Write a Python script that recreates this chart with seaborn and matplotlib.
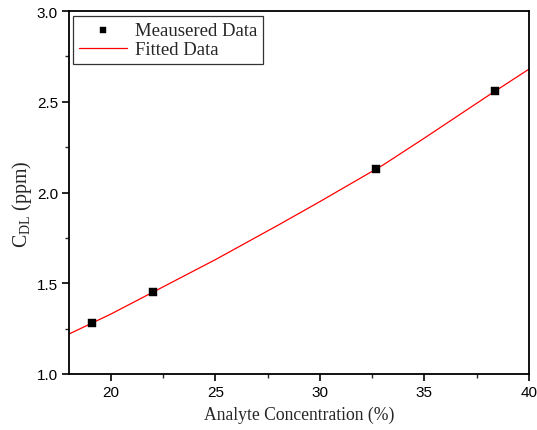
import matplotlib
matplotlib.use("Agg")
import matplotlib.pyplot as plt
import seaborn as sns
import pandas as pd
from matplotlib.ticker import MultipleLocator, AutoMinorLocator

# Data
meas_x = [19.1, 22.0, 32.7, 38.4]
meas_y = [1.28, 1.45, 2.13, 2.56]
fit_x = [18, 20, 22, 25, 28, 30, 33, 35, 38, 40]
fit_y = [1.22, 1.33, 1.45, 1.63, 1.82, 1.95, 2.15, 2.30, 2.53, 2.68]

sns.set_style("ticks")
plt.rcParams['font.family'] = ['Liberation Sans', 'DejaVu Sans']
plt.rcParams['mathtext.fontset'] = 'custom'
plt.rcParams['mathtext.rm'] = 'Liberation Serif'

fig = plt.figure(figsize=(5.37, 4.31), dpi=100)
ax = fig.add_axes([0.1285, 0.13, 0.8565, 0.842])

df_m = pd.DataFrame({"x": meas_x, "y": meas_y})
df_f = pd.DataFrame({"x": fit_x, "y": fit_y})

sns.lineplot(data=df_f, x="x", y="y", ax=ax, color="red", linewidth=0.9,
             label="Fitted Data", zorder=2)
sns.scatterplot(data=df_m, x="x", y="y", ax=ax, marker="s", s=38, color="black",
                edgecolor="black", linewidth=0.3, label="Meausered Data", zorder=3)

ax.set_xlim(18, 40)
ax.set_ylim(1.0, 3.0)
ax.xaxis.set_major_locator(MultipleLocator(5))
ax.xaxis.set_minor_locator(AutoMinorLocator(2))
ax.set_yticks([1.0, 1.5, 2.0, 2.5, 3.0])
ax.set_yticklabels(["1.0", "1.5", "2.0", "2.5", "3.0"])
ax.yaxis.set_minor_locator(AutoMinorLocator(2))

for s in ax.spines.values():
    s.set_linewidth(1.3)
    s.set_color("black")
ax.tick_params(which="major", direction="out", length=5, width=1.2, labelsize=11,
               colors="black", top=False, right=False, pad=3)
ax.tick_params(which="minor", direction="out", length=3, width=1.0,
               top=False, right=False)

ax.set_xlabel("Analyte Concentration (%)", fontsize=12.7, family="Liberation Serif", labelpad=5)
ax.set_ylabel(r"C$_{\mathrm{DL}}$ (ppm)", fontsize=14.3, family="Liberation Serif", labelpad=5)
ax.yaxis.set_label_coords(-0.076, 0.47)

handles, labels = ax.get_legend_handles_labels()
order = [labels.index("Meausered Data"), labels.index("Fitted Data")]
leg = ax.legend([handles[i] for i in order], [labels[i] for i in order],
                loc="upper left", bbox_to_anchor=(0.0087, 0.986), frameon=True,
                fancybox=False, edgecolor="#333333", framealpha=1,
                prop={"family": "Liberation Serif", "size": 13.5},
                handlelength=2.6, handletextpad=0.4, borderpad=0.3, labelspacing=0.12,
                borderaxespad=0.0, markerscale=0.75)
leg.get_frame().set_linewidth(0.9)

fig.savefig("out.png", dpi=100)
